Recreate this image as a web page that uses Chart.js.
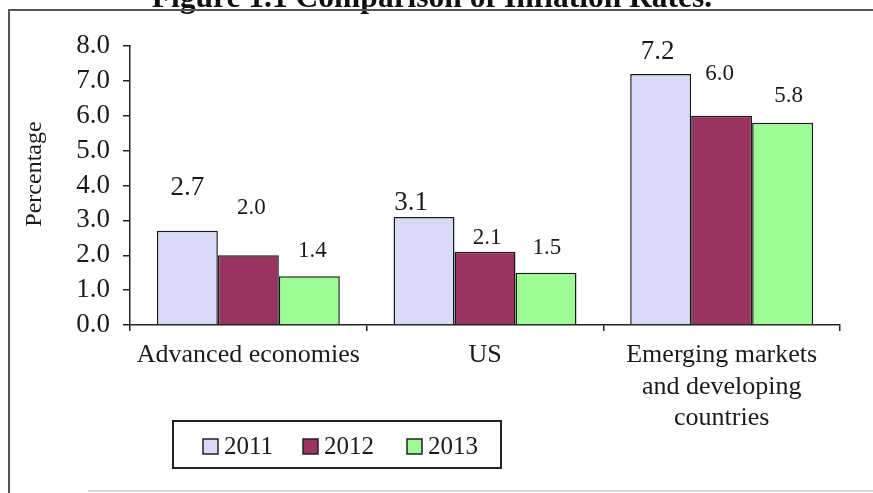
<!DOCTYPE html>
<html>
<head>
<meta charset="utf-8">
<script src="https://cdn.jsdelivr.net/npm/chart.js@4.4.0/dist/chart.umd.min.js"></script>
<style>
  html, body { margin: 0; padding: 0; background: #fff; }
  #wrap { position: relative; width: 873px; height: 493px; overflow: hidden; background: #fff; }
  #title { position: absolute; left: 0; width: 864px; top: -21px; line-height: 30px; text-align: center;
           font: bold 31.5px "Liberation Serif", serif; color: #111; white-space: nowrap; }
  #frameTop { position: absolute; left: 8px; top: 9px; width: 865px; height: 2px; background: #555; }
  #frameLeft { position: absolute; left: 8px; top: 9px; width: 2px; height: 484px; background: #555; }
  #frameBottom { position: absolute; left: 88px; top: 490px; width: 785px; height: 2px; background: #ddd; }
  canvas { position: absolute; left: 0; top: 0; }
</style>
</head>
<body>
<div id="wrap">
  <canvas id="c" width="873" height="493"></canvas>
  <div id="title">Figure 1.1 Comparison of Inflation Rates.</div>
  <div id="frameTop"></div>
  <div id="frameLeft"></div>
  <div id="frameBottom"></div>
</div>
<script>
// ---- data ----
const categories = [["Advanced economies"], ["US"], ["Emerging markets", "and developing", "countries"]];
const seriesNames = ["2011", "2012", "2013"];
const values2011 = [2.7, 3.1, 7.2];
const values2012 = [2.0, 2.1, 6.0];
const values2013 = [1.4, 1.5, 5.8];
const yTickLabels = ["0.0", "1.0", "2.0", "3.0", "4.0", "5.0", "6.0", "7.0", "8.0"];
const yAxisTitle = "Percentage";

// ---- styles ----
const seriesColors = ["#DADAF8", "#993360", "#9CFC96"];
const labelFontSizes = [27, 23, 23];
// value-label placement: [dx, distance above bar top]
const labelOffsets = [
  [[0, 43], [-13, 14], [-3, 22]],
  [[3, 47], [2, 14], [-2, 42]],
  [[3, 25], [1, 25], [6, 27]]
];
const FONT = '"Liberation Serif", serif';

const valueLabels = {
  id: 'valueLabels',
  afterDatasetsDraw(chart) {
    const ctx = chart.ctx;
    ctx.save();
    ctx.fillStyle = '#1a1a1a';
    ctx.textAlign = 'center';
    ctx.textBaseline = 'middle';
    chart.data.datasets.forEach((ds, di) => {
      const meta = chart.getDatasetMeta(di);
      ctx.font = labelFontSizes[di] + 'px ' + FONT;
      meta.data.forEach((el, i) => {
        const off = labelOffsets[di][i];
        ctx.fillText(ds.data[i].toFixed(1), el.x + off[0], el.y - off[1]);
      });
    });
    ctx.restore();
  }
};

const extras = {
  id: 'extras',
  afterDraw(chart) {
    const ctx = chart.ctx;
    ctx.save();
    // y axis title
    ctx.translate(35, 174);
    ctx.rotate(-Math.PI / 2);
    ctx.font = '24px ' + FONT;
    ctx.fillStyle = '#1a1a1a';
    ctx.textAlign = 'center';
    ctx.textBaseline = 'middle';
    ctx.fillText(yAxisTitle, 0, 0);
    ctx.restore();

    // legend
    ctx.save();
    ctx.strokeStyle = '#222';
    ctx.lineWidth = 2;
    ctx.strokeRect(173, 421, 328, 47);
    const itemX = [203, 303, 407];
    const cy = 446;
    ctx.font = '25px ' + FONT;
    ctx.textBaseline = 'middle';
    ctx.textAlign = 'left';
    seriesNames.forEach((name, i) => {
      ctx.fillStyle = seriesColors[i];
      ctx.fillRect(itemX[i], cy - 7, 15, 15);
      ctx.lineWidth = 1.5;
      ctx.strokeStyle = '#222';
      ctx.strokeRect(itemX[i], cy - 7, 15, 15);
      ctx.fillStyle = '#1a1a1a';
      ctx.fillText(name, itemX[i] + 21, cy + 1);
    });
    ctx.restore();
  }
};

const datasets = [values2011, values2012, values2013].map((vals, i) => ({
  label: seriesNames[i],
  data: vals,
  backgroundColor: seriesColors[i],
  borderColor: '#1a1a1a',
  borderWidth: 1.5,
  borderSkipped: 'bottom',
  barPercentage: 1.0,
  categoryPercentage: 0.773
}));

new Chart(document.getElementById('c'), {
  type: 'bar',
  data: { labels: categories, datasets },
  options: {
    responsive: false,
    animation: false,
    layout: { padding: { top: 46, right: 33, left: 0, bottom: 0 } },
    plugins: { legend: { display: false }, tooltip: { enabled: false }, title: { display: false } },
    scales: {
      x: {
        afterFit(scale) { scale.height = 168; },
        grid: { display: true, drawOnChartArea: false, drawTicks: true, tickLength: 6, offset: true,
                color: '#222', lineWidth: 1.5 },
        border: { display: true, color: '#222', width: 1.5 },
        ticks: { font: { family: FONT, size: 26, lineHeight: 1.2 }, color: '#1a1a1a', padding: 9,
                 maxRotation: 0, autoSkip: false }
      },
      y: {
        min: 0, max: 8,
        afterFit(scale) { scale.width = 130; },
        grid: { display: true, drawOnChartArea: false, drawTicks: true, tickLength: 7,
                color: '#222', lineWidth: 1.5 },
        border: { display: true, color: '#222', width: 1.5 },
        ticks: { stepSize: 1, autoSkip: false, font: { family: FONT, size: 27 }, color: '#1a1a1a', padding: 13,
                 callback: (v) => yTickLabels[Math.round(v)] }
      }
    }
  },
  plugins: [valueLabels, extras]
});
</script>
</body>
</html>
